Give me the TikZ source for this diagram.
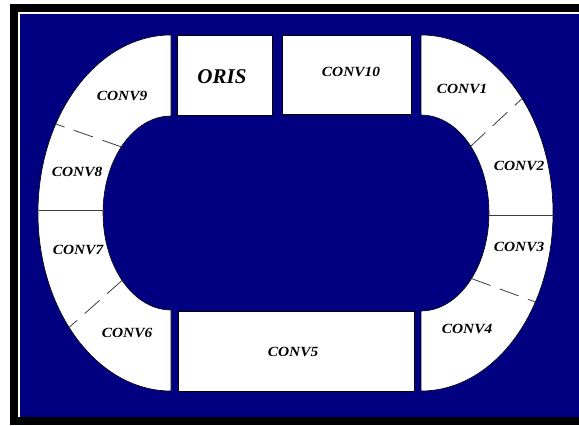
\documentclass[tikz,border=0pt]{standalone}
\usepackage{fontspec}
\setmainfont{Liberation Serif}
\usetikzlibrary{calc}
\definecolor{navy}{RGB}{0,0,128}
\definecolor{divgray}{RGB}{60,60,60}
\begin{document}
\begin{tikzpicture}[x=1pt,y=1pt,
  seg/.style={fill=white,draw=black,line width=0.6pt},
  lbl/.style={font=\fontsize{14}{14}\selectfont\bfseries\itshape, xscale=1.1, inner sep=0pt},
  biglbl/.style={font=\fontsize{21}{21}\selectfont\bfseries\itshape, inner sep=0pt},
  divdash/.style={draw=divgray,line width=0.8pt,dash pattern=on 20pt off 10pt},
  divsolid/.style={draw=divgray,line width=0.8pt}]
\useasboundingbox (0,0) rectangle (579,426);
\fill[white] (0,0) rectangle (579,426);
\fill[black] (10,1) rectangle (579,422);
\fill[white] (17.5,9) rectangle (579,413.5);
\fill[navy] (19.5,9) rectangle (579,412);
\coordinate (L) at (171,213);
\coordinate (R) at (421,213);
% left curved half
\path[seg] (171,391) arc[start angle=90,end angle=270,x radius=133pt,y radius=178pt]
  -- (171,116) arc[start angle=270,end angle=90,x radius=68pt,y radius=97pt] -- cycle;
% right curved half
\path[seg] (421,391) arc[start angle=90,end angle=-90,x radius=132pt,y radius=178pt]
  -- (421,115) arc[start angle=-90,end angle=90,x radius=68pt,y radius=98pt] -- cycle;
% straight boxes
\path[seg] (177,311) rectangle (272,391);
\path[seg] (282,312) rectangle (411,391);
\path[seg] (178,35) rectangle (414,115);
% dividers
\draw[divdash] ($(L)+(137:68pt and 97pt)$) -- ($(L)+(150:133pt and 178pt)$);
\draw[divdash] ($(L)+(224:68pt and 97pt)$) -- ($(L)+(220:133pt and 178pt)$);
\draw[divdash] ($(R)+(43:68pt and 98pt)$) -- ($(R)+(40:132pt and 178pt)$);
\draw[divdash] ($(R)+(318:68pt and 98pt)$) -- ($(R)+(330:132pt and 178pt)$);
\coordinate (ls1) at (38.5,216);
\coordinate (ls2) at (103.5,216);
\coordinate (rs1) at (488.5,211);
\coordinate (rs2) at (552.5,211);
\draw[divsolid] (ls1) -- (ls2);
\draw[divsolid] (rs1) -- (rs2);
% labels
\node[biglbl] (oris) at (222,349) {ORIS};
\node[lbl] (c10) at (351,354) {CONV10};
\node[lbl] (c1) at (462,337) {CONV1};
\node[lbl] (c2) at (519,260) {CONV2};
\node[lbl] (c3) at (519,179) {CONV3};
\node[lbl] (c4) at (467,97) {CONV4};
\node[lbl] (c5) at (293,74) {CONV5};
\node[lbl] (c6) at (127,93) {CONV6};
\node[lbl] (c7) at (78,176) {CONV7};
\node[lbl] (c8) at (77,254) {CONV8};
\node[lbl] (c9) at (122,330) {CONV9};
\end{tikzpicture}
\end{document}
